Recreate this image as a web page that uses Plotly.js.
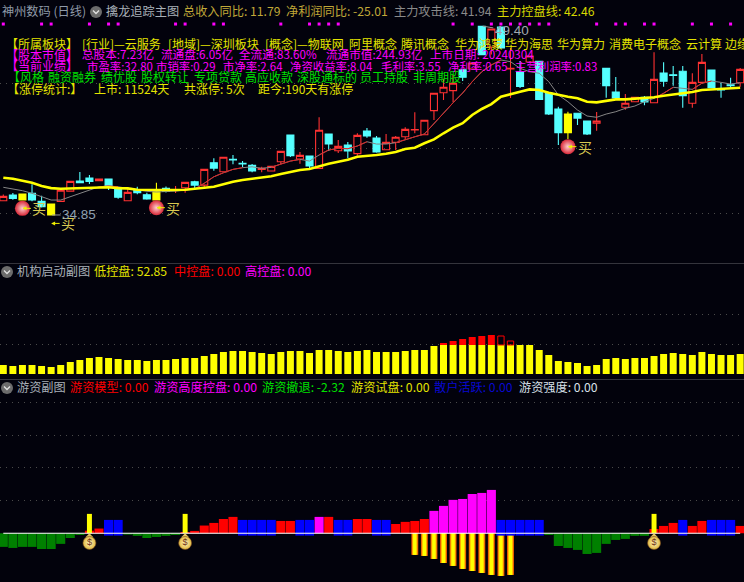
<!DOCTYPE html>
<html><head><meta charset="utf-8">
<script src="https://cdn.plot.ly/plotly-3.0.1.min.js"></script>
<style>html,body{margin:0;padding:0;background:#02020c;overflow:hidden}#c{width:744px;height:582px}</style>
</head><body><div id="c"></div>
<script>
// ---- Main panel: daily candles
const openP  = [35.95,36.39,36.46,36.52,35.90,35.69,35.90,36.69,37.46,37.69,37.49,37.62,36.90,35.95,36.77,36.41,36.77,36.90,36.77,36.95,37.41,37.15,38.87,38.18,39.13,38.83,38.67,38.36,38.23,38.95,41.00,39.16,39.39,38.44,41.08,39.80,40.24,39.57,41.31,40.77,39.87,40.44,40.87,41.39,41.03,42.88,44.26,44.42,46.03,46.09,49.37,47.78,49.32,46.09,45.86,46.63,46.68,44.22,43.01,42.62,42.68,42.08,41.91,46.14,44.32,43.14,43.57,43.91,43.49,45.78,45.65,45.91,43.45,45.06,46.01,44.55,44.88,45.03];
const highP  = [36.42,36.54,36.46,37.21,36.33,35.69,36.75,37.44,38.16,37.93,37.62,37.62,37.00,37.00,37.02,36.56,37.33,37.05,37.08,37.36,37.49,38.36,39.21,39.29,39.47,39.00,38.77,38.56,38.59,39.75,41.00,39.70,39.39,42.37,41.08,40.62,40.47,41.14,41.54,40.93,41.08,40.93,41.60,42.75,42.14,44.22,45.34,45.63,46.03,46.55,49.40,49.17,49.32,47.70,46.70,47.09,46.68,44.22,43.18,42.80,42.68,42.08,42.78,46.14,45.47,44.16,43.91,44.01,47.37,46.60,46.32,46.32,45.76,47.24,46.01,45.01,45.42,46.16];
const lowP   = [35.92,36.02,36.00,35.90,35.42,34.85,35.90,36.69,37.33,37.23,37.49,36.77,36.10,35.95,36.44,36.02,36.00,36.59,36.54,36.56,36.82,36.92,38.26,38.18,38.75,38.52,38.13,38.13,38.23,38.77,39.31,38.80,38.46,38.44,39.77,39.62,39.21,39.41,40.80,39.64,39.87,39.85,40.67,41.14,41.03,42.16,43.70,43.55,45.16,46.09,47.19,47.20,47.70,43.85,44.62,46.63,43.74,42.55,40.24,40.70,41.78,41.00,41.34,43.88,43.85,42.95,43.57,43.29,43.49,44.72,44.80,43.11,43.11,45.06,44.65,43.88,44.57,44.72];
const closeP = [36.28,36.13,36.00,36.00,35.48,34.85,36.75,37.44,37.33,37.44,37.62,37.13,36.21,36.59,36.56,36.08,36.00,36.67,36.81,37.36,37.15,38.36,38.46,39.29,39.08,38.77,38.23,38.44,38.59,39.75,39.41,39.44,38.62,41.37,40.31,40.13,39.77,40.98,40.93,39.70,40.44,40.83,41.44,41.43,42.14,44.22,44.68,44.99,45.45,46.55,47.19,49.17,47.70,46.14,44.75,47.09,43.74,42.62,41.18,41.18,42.31,41.08,42.08,44.80,43.85,43.45,43.91,43.55,45.29,45.14,45.60,44.03,45.06,46.60,44.65,44.47,44.80,46.06];
const yellowCandles = [2,5,16,59];
// 主力控盘线 / 主力攻击线
const controlLine = [37.72,37.64,37.49,37.33,37.08,36.92,36.87,36.90,36.92,36.95,36.98,36.98,36.92,36.90,36.79,36.77,36.77,36.77,36.77,36.79,36.87,36.95,37.02,37.21,37.41,37.54,37.64,37.75,37.83,38.00,38.16,38.31,38.39,38.62,38.80,38.95,39.10,39.33,39.39,39.47,39.57,39.70,39.93,40.03,40.37,40.67,41.14,41.57,41.91,42.55,43.01,43.39,43.95,44.16,44.34,44.52,44.47,44.26,44.09,43.95,43.83,43.57,43.52,43.65,43.75,43.75,43.80,43.85,43.91,44.03,44.11,44.22,44.32,44.47,44.52,44.52,44.57,44.65];
const attackLine = [36.98,36.87,36.72,36.52,36.25,36.00,36.00,36.25,36.52,36.77,37.02,37.08,37.02,36.90,36.77,36.67,36.62,36.64,36.69,36.77,36.85,37.29,37.79,38.10,38.36,38.49,38.56,38.44,38.52,38.77,39.00,39.13,39.00,39.47,39.85,39.98,39.95,40.16,40.49,40.31,40.31,40.41,40.67,40.87,41.08,41.91,42.68,43.49,44.24,45.11,45.88,46.40,46.78,46.65,46.14,45.88,45.76,45.11,44.09,43.57,42.93,42.47,42.37,42.62,42.80,43.06,43.24,43.57,43.83,44.22,44.68,44.60,44.52,44.99,45.16,45.06,44.93,45.03];
const attackRedRanges = [[10,12],[19,25],[28,31],[33,38],[41,52],[68,70],[72,74]];
const topDotIdx = [0,4,5,9,11,12,18,19,22,23,29,32,33,34,35,47,49,51,52,53,54,55,56,57,62,64,65,67,68,72,74,76];
const topDotLevel = 49.55;
const buyIdx = [2,16,59];
const buyLevel = [35.36,35.41,40.11];
const priceGrid = [35,40,45];

// ---- 机构启动副图
const lowControl = [23.76,21.12,23.76,23.76,21.12,18.48,23.76,31.68,36.96,42.24,44.88,42.24,39.6,36.96,36.96,34.32,36.96,36.96,39.6,42.24,42.24,47.52,52.8,58.08,60.72,60.72,58.08,55.44,52.8,58.08,60.72,60.72,55.44,63.36,63.36,60.72,58.08,60.72,63.36,58.08,58.08,58.08,60.72,63.36,63.36,73.92,76.56,76.56,76.56,76.56,76.56,76.56,76.56,76.56,76.56,76.56,63.36,50.16,34.32,31.68,29.04,21.12,23.76,39.6,42.24,39.6,42.24,42.24,47.52,52.8,55.44,52.8,50.16,58.08,52.8,50.16,50.16,52.85];
const midIdx = [46,47,48,49,50,51];
const midVals = [5.28,10.56,15.84,21.12,23.76,26.4];
const midHollowIdx = [52,53];
const midHollowVals = [23.76,10.56];
const flowGrid = [78.4,157.6];

// ---- 游资副图
const greenIdx = [0,1,2,3,4,5,6,7,8,13,14,15,16,17,18,57,58,59,60,61,62,63,64,65,66,67];
const greenVals = [-10.4,-11.2,-10.4,-10.4,-12,-12,-8.1,-3.6,-1.3,-1,-2,-3.6,-2.8,-2,-1.3,-1.3,-9.7,-11.2,-12.7,-15.8,-15,-8.1,-5.1,-4.3,-2,-2];
const redIdx = [9,10,19,20,21,22,23,24,29,30,34,37,38,41,42,43,44,68,69,70,72,73,77];
const redVals = [2,3.6,1,1.8,5.9,7.9,10.9,12.5,9.4,9.4,12.5,10.9,10.9,7.1,8.7,9.4,10.9,3.3,5.6,7.9,5.6,9.4,5.6];
const magentaIdx = [33,45,46,47,48,49,50,51];
const magentaVals = [12.5,17.1,20.9,25.5,26.2,30,30.8,33.1];
const blueIdx = [11,12,25,26,27,28,31,32,35,36,39,40,52,53,54,55,56,71,74,75,76];
const blueUp = 10.2, blueDown = -1.8;
const orangeIdx = [43,44,45,46,47,48,49,50,51,52,53];
const orangeVals = [-16.5,-17.3,-19.6,-22.7,-24.9,-27.2,-28.8,-30.3,-31.8,-32.6,-31.8];
const spikeIdx = [9,19,68];
const spikeVal = 14.8;
const bagLevel = -7.4;
const hotGrid = [25,50,75,100];

// ---- Texts
const C_Y='#e4e400', C_M='#ff00ff', C_G='#00e000', C_R='#ff0000', C_HEAD='#c0a838', C_GRAY='#8a8a8a', C_T='#a8b0b8';
const headerRow = [[2,'神州数码 (日线)','#8f9aa8'],[106,'擒龙追踪主图',C_T],[183,'总收入同比: 11.79',C_HEAD],[286,'净利润同比: -25.01',C_HEAD],[394,'主力攻击线: 41.94',C_GRAY],[497,'主力控盘线: 42.46','#d8d800']];
const infoRow1 = [[6,'【所属板块】'],[82,'[行业]—云服务'],[168,'[地域]—深圳板块'],[265,'[概念]—物联网'],[349,'阿里概念'],[401,'腾讯概念'],[455,'华为鸿蒙'],[505,'华为海思'],[557,'华为算力'],[609,'消费电子概念'],[686,'云计算'],[725,'边缘']];
const infoRow2 = [[6,'【股本市值】'],[82,'总股本:7.23亿'],[161,'流通盘:6.05亿'],[239,'全流通:83.60%'],[326,'流通市值:244.93亿'],[430,'上市日期: 20240304']];
const infoRow3 = [[6,'【当前业绩】'],[87,'市盈率:32.80'],[156,'市销率:0.29'],[223,'市净率:2.64'],[290,'净资收益率:8.04'],[381,'毛利率:3.55'],[448,'净利率:0.65'],[515,'主营利润率:0.83']];
const infoRow4 = [[8,'【风格'],[48,'融资融券'],[101,'绩优股'],[141,'股权转让'],[194,'专项贷款'],[245,'高应收款'],[297,'深股通标的'],[360,'员工持股'],[413,'非周期股']];
const infoRow5 = [[7,'【涨停统计:】'],[94,'上市: 11524天'],[184,'共涨停: 5次'],[258,'距今:190天有涨停']];
const flowRow = [[17,'机构启动副图',C_T],[94,'低控盘: 52.85',C_Y],[174,'中控盘: 0.00',C_R],[245,'高控盘: 0.00',C_M]];
const hotRow = [[17,'游资副图',C_T],[70,'游资模型: 0.00',C_R],[154,'游资高度控盘: 0.00',C_M],[262,'游资撤退: -2.32',C_G],[351,'游资试盘: 0.00',C_Y],[434,'散户活跃: 0.00','#0808d0'],[519,'游资强度: 0.00','#d8e0e8']];

// ---- Layout helpers (pixel placement of the page furniture)
const W=744,H=582;
const px=v=>v/W, py=v=>1-v/H;
const FONT='"Noto Sans CJK SC","Noto Sans",sans-serif';
const ann=[];
function label(x,y,t,c,s){ann.push({xref:'paper',yref:'paper',x:px(x),y:py(y-1.2),xanchor:'left',yanchor:'middle',text:t,showarrow:false,font:{family:FONT,size:s||12,color:c},borderpad:0,borderwidth:0});}
headerRow.forEach(r=>label(r[0],12,r[1],r[2],12.2));
infoRow1.forEach(r=>label(r[0],45,r[1],C_Y));
infoRow2.forEach(r=>label(r[0],55.5,r[1],C_M,r[0]<10?12:11.6));
infoRow3.forEach(r=>label(r[0],67,r[1],C_M,r[0]<10?12:11.4));
infoRow4.forEach(r=>label(r[0],78,r[1],C_G));
infoRow5.forEach(r=>label(r[0],90,r[1],C_Y));
flowRow.forEach(r=>label(r[0],272,r[1],r[2],12.2));
hotRow.forEach(r=>label(r[0],388,r[1],r[2],12.2));

// price call-outs
const BUY='#d8c850';
function buyMark(i,y,dx){ann.push({xref:'x',yref:'y',x:i,y:y,ax:dx,ay:0,text:'买',showarrow:true,arrowcolor:'#f0f000',arrowwidth:1,arrowhead:2,arrowsize:.8,standoff:0,font:{family:FONT,size:14,color:BUY}});}
buyIdx.forEach((i,k)=>buyMark(i,buyLevel[k],17));
buyMark(5,34.2,17);
ann.push({xref:'x',yref:'y',x:5,y:lowP[5],ax:28,ay:0,text:'34.85',showarrow:true,arrowcolor:'#9a9a9a',arrowwidth:1,arrowhead:0,standoff:1,font:{family:'Liberation Sans',size:13.5,color:'#8fa0b0'}});
ann.push({xref:'x',yref:'y',x:50,y:highP[50],ax:30,ay:5,text:'49.40',showarrow:true,arrowcolor:'#9a9a9a',arrowwidth:1,arrowhead:0,standoff:1,font:{family:'Liberation Sans',size:13.5,color:'#a0a8b0'}});

// chevron buttons and panel separators
const shapes=[];
function chevron(x,y){
  shapes.push({type:'circle',xref:'paper',yref:'paper',x0:px(x-6),x1:px(x+6),y0:py(y+6),y1:py(y-6),fillcolor:'#6c6c6c',line:{width:0},layer:'above'});
  shapes.push({type:'path',xref:'paper',yref:'paper',path:`M ${px(x-3)} ${py(y-1.5)} L ${px(x)} ${py(y+1.5)} L ${px(x+3)} ${py(y-1.5)}`,line:{color:'#e0e0e0',width:1.4},layer:'above'});
}
chevron(96,12);chevron(7,272);chevron(7,388);
[263.5,379.5].forEach(y=>shapes.push({type:'line',xref:'paper',yref:'paper',x0:0,x1:1,y0:py(y),y1:py(y),line:{color:'#34343c',width:1.2},layer:'above'}));

// ---- Traces
const all=openP.map((_,i)=>i);
const plain=all.filter(i=>!yellowCandles.includes(i));
const pick=(a,idx)=>idx.map(i=>a[i]);
const CY='#55ffff',RED='#ff3232';
function candles(idx,up,upFill,dn,dnFill){return {type:'candlestick',x:idx,open:pick(openP,idx),high:pick(highP,idx),low:pick(lowP,idx),close:pick(closeP,idx),xaxis:'x',yaxis:'y',whiskerwidth:0,hoverinfo:'skip',
  increasing:{line:{color:up,width:1.1},fillcolor:upFill},decreasing:{line:{color:dn,width:1.1},fillcolor:dnFill}};}
const redX=[],redY=[];
attackRedRanges.forEach(r=>{for(let i=r[0];i<=r[1];i++){redX.push(i);redY.push(attackLine[i]);}redX.push(null);redY.push(null);});
function bars(x,y,color,yaxis,width,extra){return Object.assign({type:'bar',x:x,y:y,xaxis:'x',yaxis:yaxis,width:width,marker:{color:color,line:{width:0}},hoverinfo:'skip'},extra||{});}
const fill=(n,v)=>new Array(n).fill(v);

const data=[
  candles(plain,RED,'rgba(0,0,0,0)',CY,CY),
  candles(yellowCandles,'#ffff00','#ffff00','#ffff00','#ffff00'),
  {type:'scatter',mode:'lines',x:all,y:attackLine,xaxis:'x',yaxis:'y',line:{color:'#858585',width:1},hoverinfo:'skip'},
  {type:'scatter',mode:'lines',x:redX,y:redY,xaxis:'x',yaxis:'y',line:{color:'#e02020',width:1},connectgaps:false,hoverinfo:'skip'},
  {type:'scatter',mode:'lines',x:all,y:controlLine,xaxis:'x',yaxis:'y',line:{color:'#ffff00',width:2.6},hoverinfo:'skip'},
  {type:'scatter',mode:'markers',x:topDotIdx,y:fill(topDotIdx.length,topDotLevel),xaxis:'x',yaxis:'y',marker:{symbol:'square',size:3,color:'#ff00ff'},hoverinfo:'skip'},
  {type:'scatter',mode:'markers',x:buyIdx,y:buyLevel,xaxis:'x',yaxis:'y',marker:{symbol:'circle',size:15,color:'#d82838',gradient:{type:'radial',color:'#ffd0d0'},line:{width:0}},hoverinfo:'skip'},
  // 机构启动
  bars(all,lowControl,'#ffff00','y2',.73),
  bars(midIdx,midVals,'#ff0000','y2',.73,{base:pick(lowControl,midIdx)}),
  {type:'bar',x:midHollowIdx,y:midHollowVals,base:pick(lowControl,midHollowIdx),xaxis:'x',yaxis:'y2',width:.66,marker:{color:'rgba(0,0,0,0)',line:{color:'#ff0000',width:1}},hoverinfo:'skip'},
  // 游资
  bars(greenIdx,greenVals,'#008000','y3',.95),
  bars(redIdx,redVals,'#ff0000','y3',.95),
  bars(magentaIdx,magentaVals,'#ff00ff','y3',.95),
  bars(blueIdx,fill(blueIdx.length,blueUp),'#0000ff','y3',.95),
  bars(orangeIdx,orangeVals,'#e04800','y3',.73),
  bars(orangeIdx,orangeVals,'#ffa800','y3',.56),
  bars(orangeIdx,orangeVals,'#ffff00','y3',.36),
  bars(blueIdx,fill(blueIdx.length,blueDown),'#0000ff','y3',.95),
  bars(spikeIdx,fill(3,spikeVal),'#ffff00','y3',.52),
  {type:'scatter',mode:'lines',x:all,y:fill(all.length,0),xaxis:'x',yaxis:'y3',line:{color:'#ffffff',width:1.2},hoverinfo:'skip'},
  {type:'scatter',mode:'markers',x:spikeIdx,y:fill(3,-3),xaxis:'x',yaxis:'y3',marker:{symbol:'diamond',size:6,color:'#e8c860'},hoverinfo:'skip'},
  {type:'scatter',mode:'markers+text',x:spikeIdx,y:fill(3,bagLevel),text:fill(3,'$'),textposition:'middle center',textfont:{family:'Liberation Sans',size:9,color:'#703010'},xaxis:'x',yaxis:'y3',marker:{symbol:'circle',size:13,color:'#e0b840',gradient:{type:'radial',color:'#fff4c0'},line:{color:'#7a4a20',width:.6}},hoverinfo:'skip'}
];

const yBase={showticklabels:false,ticks:'',zeroline:false,fixedrange:true,showline:false,gridcolor:'#4a4a4a',gridwidth:1,griddash:'1px,5px',tickmode:'array'};
const layout={
  width:W,height:H,margin:{l:0,r:0,t:0,b:0,pad:0},autosize:false,
  paper_bgcolor:'#02020c',plot_bgcolor:'#02020c',showlegend:false,
  barmode:'overlay',boxmode:'overlay',boxgap:.27,boxgroupgap:0,
  xaxis:{range:[-0.345,77.4],visible:false,fixedrange:true,rangeslider:{visible:false},anchor:'y3',domain:[0,1]},
  yaxis:Object.assign({},yBase,{domain:[py(262),1],range:[31.23,51.4],tickvals:priceGrid}),
  yaxis2:Object.assign({},yBase,{domain:[py(378),py(265)],range:[-10.56,287.8],tickvals:flowGrid}),
  yaxis3:Object.assign({},yBase,{domain:[0,py(380)],range:[-37.2,117],tickvals:hotGrid}),
  annotations:ann,shapes:shapes,
  font:{family:FONT}
};
Plotly.newPlot('c',data,layout,{staticPlot:true,displayModeBar:false});
</script></body></html>
